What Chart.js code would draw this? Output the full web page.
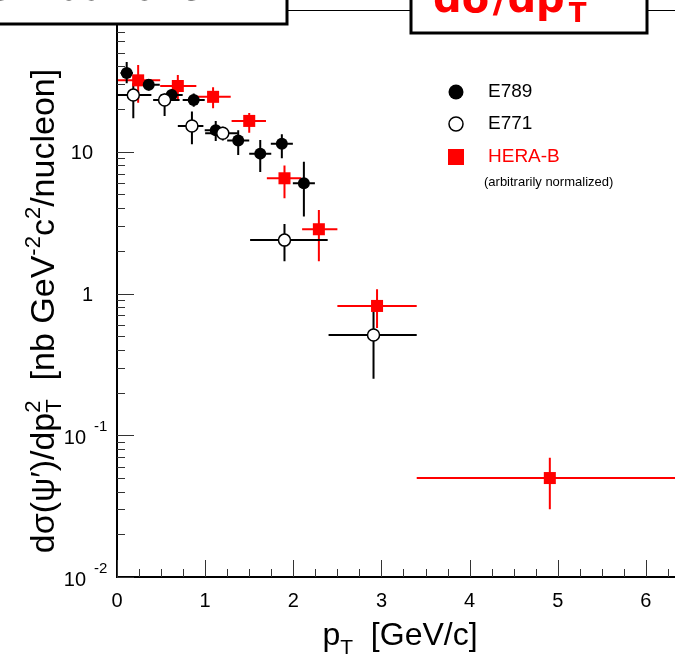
<!DOCTYPE html>
<html>
<head>
<meta charset="utf-8">
<script src="https://cdn.jsdelivr.net/npm/chart.js@4"></script>
<style>
  body { margin: 0; background: #fff; overflow: hidden; }
  #wrap { width: 675px; height: 657px; }
</style>
</head>
<body>
<div id="wrap"><canvas id="myChart" width="675" height="657"></canvas></div>
<script>
// E789 (filled circles)
const e789X = [0.11, 0.36, 0.62, 0.87, 1.12, 1.375, 1.625, 1.87, 2.12];
const e789Y = [36, 29.7, 25.1, 23.2, 14.2, 12.0, 9.7, 11.4, 6.0];
const e789Xerr = [0.07, 0.125, 0.125, 0.125, 0.125, 0.125, 0.125, 0.125, 0.125];
const e789Ylo = [30.4, 27, 23, 20.8, 11.9, 9.5, 7.2, 9.0, 3.5];
const e789Yhi = [43, 31.5, 27.5, 25.8, 16.5, 14.2, 12.1, 13.3, 8.5];

// E771 (open circles)
const e771X = [0.185, 0.54, 0.85, 1.2, 1.9, 2.91];
const e771Y = [25.1, 23.2, 15.2, 13.5, 2.38, 0.51];
const e771Xlo = [0, 0.41, 0.69, 1.0, 1.51, 2.4];
const e771Xhi = [0.39, 0.71, 0.98, 1.37, 2.39, 3.4];
const e771Ylo = [17.2, 17.9, 11.3, 12.0, 1.69, 0.25];
const e771Yhi = [30.4, 25.8, 19.2, 15.0, 3.09, 0.77];

// HERA-B (red squares)
const herabX = [0.24, 0.69, 1.09, 1.5, 1.9, 2.29, 2.95, 4.91];
const herabY = [31.9, 29.1, 24.4, 16.5, 6.5, 2.84, 0.817, 0.0499];
const herabXlo = [0, 0.49, 0.9, 1.3, 1.7, 2.1, 2.5, 3.4];
const herabXhi = [0.49, 0.9, 1.29, 1.69, 2.09, 2.5, 3.4, 6.4];
const herabYlo = [22.2, 23.2, 20.3, 13.6, 4.7, 1.69, 0.57, 0.03];
const herabYhi = [40.9, 34.8, 28.5, 18.8, 8.0, 3.88, 1.07, 0.0695];

const xTickLabels = ["0", "1", "2", "3", "4", "5", "6"];
const yDecades = [0.01, 0.1, 1, 10, 100];
const yDecadeLabels = [["10", "-2"], ["10", "-1"], ["1", ""], ["10", ""]];

const FONT = "'Liberation Sans', Arial, sans-serif";

const pts = (xs, ys) => xs.map((x, i) => ({ x: x, y: ys[i] }));

// draws runs of text with sub/superscripts: [text, size, dy, noAdvance]
function richWidth(ctx, parts) {
  let w = 0;
  parts.forEach((p) => {
    ctx.font = p[1] + "px " + FONT;
    if (!p[3]) w += ctx.measureText(p[0]).width;
  });
  return w;
}
function drawRich(ctx, parts, x, y) {
  let cx = x;
  parts.forEach((p) => {
    ctx.font = p[1] + "px " + FONT;
    ctx.fillText(p[0], cx, y + (p[2] || 0));
    if (!p[3]) cx += ctx.measureText(p[0]).width;
  });
}

const errorBars = {
  id: "errorBars",
  beforeDatasetsDraw(chart) {
    const { ctx, chartArea: a } = chart;
    const xs = chart.scales.x;
    const ys = chart.scales.y;
    ctx.save();
    ctx.beginPath();
    ctx.rect(a.left, a.top, a.right - a.left, a.bottom - a.top);
    ctx.clip();
    ctx.lineWidth = 2;
    const bar = (color, x, y, xl, xh, yl, yh) => {
      ctx.strokeStyle = color;
      ctx.beginPath();
      ctx.moveTo(xs.getPixelForValue(xl), ys.getPixelForValue(y));
      ctx.lineTo(xs.getPixelForValue(xh), ys.getPixelForValue(y));
      ctx.moveTo(xs.getPixelForValue(x), ys.getPixelForValue(yl));
      ctx.lineTo(xs.getPixelForValue(x), ys.getPixelForValue(yh));
      ctx.stroke();
    };
    herabX.forEach((x, i) =>
      bar("#ff0000", x, herabY[i], herabXlo[i], herabXhi[i], herabYlo[i], herabYhi[i])
    );
    e789X.forEach((x, i) =>
      bar("#000", x, e789Y[i], x - e789Xerr[i], x + e789Xerr[i], e789Ylo[i], e789Yhi[i])
    );
    e771X.forEach((x, i) =>
      bar("#000", x, e771Y[i], e771Xlo[i], e771Xhi[i], e771Ylo[i], e771Yhi[i])
    );
    ctx.restore();
  },
};

const frame = {
  id: "frame",
  afterDraw(chart) {
    const { ctx, chartArea: a } = chart;
    const xs = chart.scales.x;
    const ys = chart.scales.y;
    ctx.save();

    // axes
    ctx.strokeStyle = "#000";
    ctx.lineWidth = 2;
    ctx.beginPath();
    ctx.moveTo(a.left, a.top);
    ctx.lineTo(a.left, a.bottom);
    ctx.lineTo(a.right, a.bottom);
    ctx.stroke();
    ctx.lineWidth = 1;
    ctx.beginPath();
    ctx.moveTo(a.left, a.top + 0.5);
    ctx.lineTo(a.right, a.top + 0.5);
    ctx.stroke();

    // x ticks
    ctx.strokeStyle = "#333";
    ctx.lineWidth = 1;
    ctx.beginPath();
    for (let v = 0; v <= 6.3; v += 0.25) {
      const px = Math.round(xs.getPixelForValue(v)) + 0.5;
      const len = Math.abs(v - Math.round(v)) < 1e-6 ? 17 : 8;
      ctx.moveTo(px, a.bottom);
      ctx.lineTo(px, a.bottom - len);
    }
    // y ticks
    yDecades.forEach((d) => {
      for (let k = 1; k <= 9; k++) {
        const v = d * k;
        if (v > 100.01) break;
        const py = Math.round(ys.getPixelForValue(v)) + 0.5;
        ctx.moveTo(a.left, py);
        ctx.lineTo(a.left + (k === 1 ? 17 : 8), py);
      }
    });
    ctx.stroke();

    // tick labels
    ctx.fillStyle = "#000";
    ctx.font = "20px " + FONT;
    ctx.textAlign = "center";
    ctx.textBaseline = "alphabetic";
    xTickLabels.forEach((t, i) => {
      ctx.fillText(t, xs.getPixelForValue(i), 607);
    });
    ctx.textAlign = "left";
    yDecadeLabels.forEach((lab, i) => {
      const py = ys.getPixelForValue(yDecades[i]);
      ctx.font = "20px " + FONT;
      const w = ctx.measureText(lab[0]).width;
      if (lab[1]) {
        ctx.fillText(lab[0], 86 - w, py + 9);
        ctx.font = "15px " + FONT;
        ctx.fillText(lab[1], 94, py - 4);
      } else {
        ctx.fillText(lab[0], 93 - w, py + 7);
      }
    });

    // x title
    const xParts = [["p", 32, 0], ["T", 21, 9], ["  [GeV/c]", 32, 0]];
    drawRich(ctx, xParts, 400 - richWidth(ctx, xParts) / 2, 645);

    // y title
    const yParts = [
      ["d\u03c3(\u03c8\u2032)/dp", 34, 0],
      ["2", 22, -14, true],
      ["T", 22, 7],
      ["  [nb GeV", 34, 0],
      ["-2", 22, -14],
      ["c", 34, 0],
      ["2", 22, -14],
      ["/nucleon]", 34, 0],
    ];
    ctx.save();
    ctx.translate(54, 311);
    ctx.rotate(-Math.PI / 2);
    drawRich(ctx, yParts, -richWidth(ctx, yParts) / 2, 0);
    ctx.restore();

    // legend
    ctx.fillStyle = "#000";
    ctx.beginPath();
    ctx.arc(456, 92, 7.5, 0, Math.PI * 2);
    ctx.fill();
    ctx.fillStyle = "#fff";
    ctx.strokeStyle = "#000";
    ctx.lineWidth = 1.5;
    ctx.beginPath();
    ctx.arc(456, 124, 7, 0, Math.PI * 2);
    ctx.fill();
    ctx.stroke();
    ctx.fillStyle = "#ff0000";
    ctx.fillRect(448, 149, 16, 16);
    ctx.font = "19px " + FONT;
    ctx.textBaseline = "middle";
    ctx.fillStyle = "#000";
    ctx.fillText("E789", 488, 92);
    ctx.fillText("E771", 488, 124);
    ctx.fillStyle = "#ff0000";
    ctx.fillText("HERA-B", 488, 157);
    ctx.fillStyle = "#000";
    ctx.font = "13px " + FONT;
    ctx.fillText("(arbitrarily normalized)", 484, 182);

    // title boxes
    ctx.textBaseline = "alphabetic";
    ctx.fillStyle = "#fff";
    ctx.fillRect(-5, -5, 292, 29);
    ctx.fillRect(411, -5, 236, 38);
    ctx.strokeStyle = "#000";
    ctx.lineWidth = 3;
    ctx.strokeRect(-5, -5, 292, 29);
    ctx.strokeRect(411, -5, 236, 38);
    ctx.fillStyle = "#000";
    ctx.font = "40px 'DejaVu Sans', sans-serif";
    ctx.textAlign = "right";
    ctx.fillText("p  distributions", 203, 0);
    ctx.textAlign = "left";
    ctx.fillStyle = "#ff0000";
    ctx.font = "bold 40px 'DejaVu Sans', sans-serif";
    ctx.fillText("d\u03c3/dp", 433, 12);
    const tw = ctx.measureText("d\u03c3/dp").width;
    ctx.font = "bold 26px 'DejaVu Sans', sans-serif";
    ctx.fillText("T", 433 + tw + 4, 22);

    ctx.restore();
  },
};

const ctx = document.getElementById("myChart");

new Chart(ctx, {
  type: "scatter",
  plugins: [errorBars, frame],
  data: {
    datasets: [
      {
        label: "E771",
        data: pts(e771X, e771Y),
        pointStyle: "circle",
        pointRadius: 6,
        backgroundColor: "#fff",
        borderColor: "#000",
        borderWidth: 1.5,
      },
      {
        label: "E789",
        data: pts(e789X, e789Y),
        pointStyle: "circle",
        pointRadius: 6,
        backgroundColor: "#000",
        borderColor: "#000",
        borderWidth: 0,
      },
      {
        label: "HERA-B",
        data: pts(herabX, herabY),
        pointStyle: "rect",
        pointRadius: 8.5,
        backgroundColor: "#ff0000",
        borderColor: "#ff0000",
        borderWidth: 0,
      },
    ],
  },
  options: {
    responsive: false,
    animation: false,
    devicePixelRatio: 1,
    layout: {
      autoPadding: false,
      padding: { left: 117, top: 10, right: 0, bottom: 80 },
    },
    plugins: {
      legend: { display: false },
      tooltip: { enabled: false },
    },
    scales: {
      x: { type: "linear", min: 0, max: 6.33, display: false },
      y: { type: "logarithmic", min: 0.01, max: 100, display: false },
    },
  },
});
</script>
</body>
</html>
